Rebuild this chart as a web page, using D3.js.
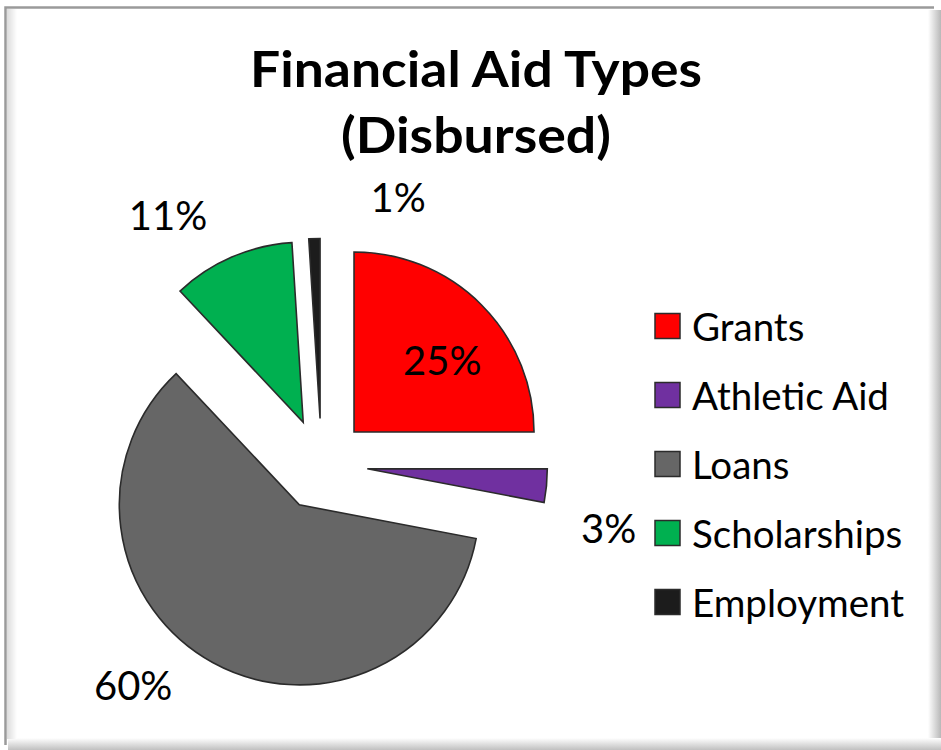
<!DOCTYPE html>
<html>
<head>
<meta charset="utf-8">
<script src="https://cdn.jsdelivr.net/npm/d3@7"></script>
<style>
  body { margin: 0; background: #ffffff; }
  svg { display: block; font-family: Lato, "Open Sans", sans-serif; }
</style>
</head>
<body>
<script>
// data
var categories = ["Grants", "Athletic Aid", "Loans", "Scholarships", "Employment"];
var values = [25, 3, 60, 11, 1];
var colors = ["#ff0000", "#7030a0", "#666666", "#00b050", "#1c1c1c"];

// label placement tweaks (degrees off mid angle, distance from pie centre)
var labelShift = [4, 7, 11.7, -8.2, 17.8];
var labelDist = [160, 294, 290, 293, 278];

var w = 941, h = 750;
var cx = 321.5, cy = 464.5;
var radius = 180, explode = 46;

var svg = d3.select("body").append("svg")
    .attr("width", w)
    .attr("height", h);

var defs = svg.append("defs");
var gr = defs.append("linearGradient").attr("id", "shR").attr("x1", 0).attr("x2", 1);
gr.append("stop").attr("offset", 0).attr("stop-color", "#ffffff");
gr.append("stop").attr("offset", 1).attr("stop-color", "#b8b8b8");
var gb = defs.append("linearGradient").attr("id", "shB").attr("x1", 0).attr("x2", 0).attr("y1", 0).attr("y2", 1);
gb.append("stop").attr("offset", 0).attr("stop-color", "#ffffff");
gb.append("stop").attr("offset", 1).attr("stop-color", "#c0c0c0");
var gl = defs.append("linearGradient").attr("id", "shL").attr("x1", 0).attr("x2", 1);
gl.append("stop").attr("offset", 0).attr("stop-color", "#dcdcdc");
gl.append("stop").attr("offset", 1).attr("stop-color", "#ffffff");

//Frame
svg.append("rect").attr("x", 928).attr("y", 10).attr("width", 13).attr("height", 740).attr("fill", "url(#shR)");
svg.append("rect").attr("x", 8).attr("y", 738).attr("width", 933).attr("height", 12).attr("fill", "url(#shB)");
svg.append("rect").attr("x", 7).attr("y", 9).attr("width", 10).attr("height", 730).attr("fill", "url(#shL)");
svg.append("path")
    .attr("d", "M5.5,745 V7.5 H934")
    .attr("fill", "none")
    .attr("stroke", "#9a9a9a")
    .attr("stroke-width", 2.5);

//Title
var title = svg.append("text")
    .attr("x", 476)
    .attr("text-anchor", "middle")
    .attr("font-weight", "bold")
    .attr("font-size", 50)
    .attr("fill", "#000");
title.append("tspan").attr("x", 476).attr("y", 87).attr("textLength", 452).attr("lengthAdjust", "spacingAndGlyphs").text("Financial Aid Types");
title.append("tspan").attr("x", 476).attr("y", 153).attr("textLength", 270).attr("lengthAdjust", "spacingAndGlyphs").text("(Disbursed)");

//Pie
var pie = d3.pie().sort(null).value(function (d) { return d; });
var arcs = pie(values);
var arc = d3.arc().innerRadius(0).outerRadius(radius);

function mid(d) { return (d.startAngle + d.endAngle) / 2; }

var g = svg.append("g").attr("transform", "translate(" + cx + "," + cy + ")");

g.selectAll("path.slice")
    .data(arcs)
    .enter()
    .append("path")
    .attr("class", "slice")
    .attr("d", arc)
    .attr("transform", function (d) {
        var a = mid(d);
        return "translate(" + (explode * Math.sin(a)) + "," + (-explode * Math.cos(a)) + ")";
    })
    .attr("fill", function (d, i) { return colors[i]; })
    .attr("stroke", "#2b2b2b")
    .attr("stroke-width", 1.6)
    .attr("stroke-linejoin", "miter");

g.selectAll("text.lbl")
    .data(arcs)
    .enter()
    .append("text")
    .attr("class", "lbl")
    .attr("x", function (d, i) { return labelDist[i] * Math.sin(mid(d) + labelShift[i] * Math.PI / 180); })
    .attr("y", function (d, i) { return -labelDist[i] * Math.cos(mid(d) + labelShift[i] * Math.PI / 180); })
    .attr("text-anchor", "middle")
    .attr("dominant-baseline", "central")
    .attr("font-size", 40)
    .attr("fill", "#000")
    .text(function (d) { return d.data + "%"; });

//Legend
var leg = svg.append("g").attr("transform", "translate(655,326)");
var row = leg.selectAll("g")
    .data(categories)
    .enter()
    .append("g")
    .attr("transform", function (d, i) { return "translate(0," + (i * 69) + ")"; });
row.append("rect")
    .attr("x", 0).attr("y", -12.5)
    .attr("width", 25).attr("height", 25)
    .attr("fill", function (d, i) { return colors[i]; })
    .attr("stroke", "#2b2b2b")
    .attr("stroke-width", 1.5);
row.append("text")
    .attr("x", 37)
    .attr("y", 0)
    .attr("dominant-baseline", "central")
    .attr("font-size", 38.5)
    .attr("fill", "#000")
    .text(function (d) { return d; });
</script>
</body>
</html>
